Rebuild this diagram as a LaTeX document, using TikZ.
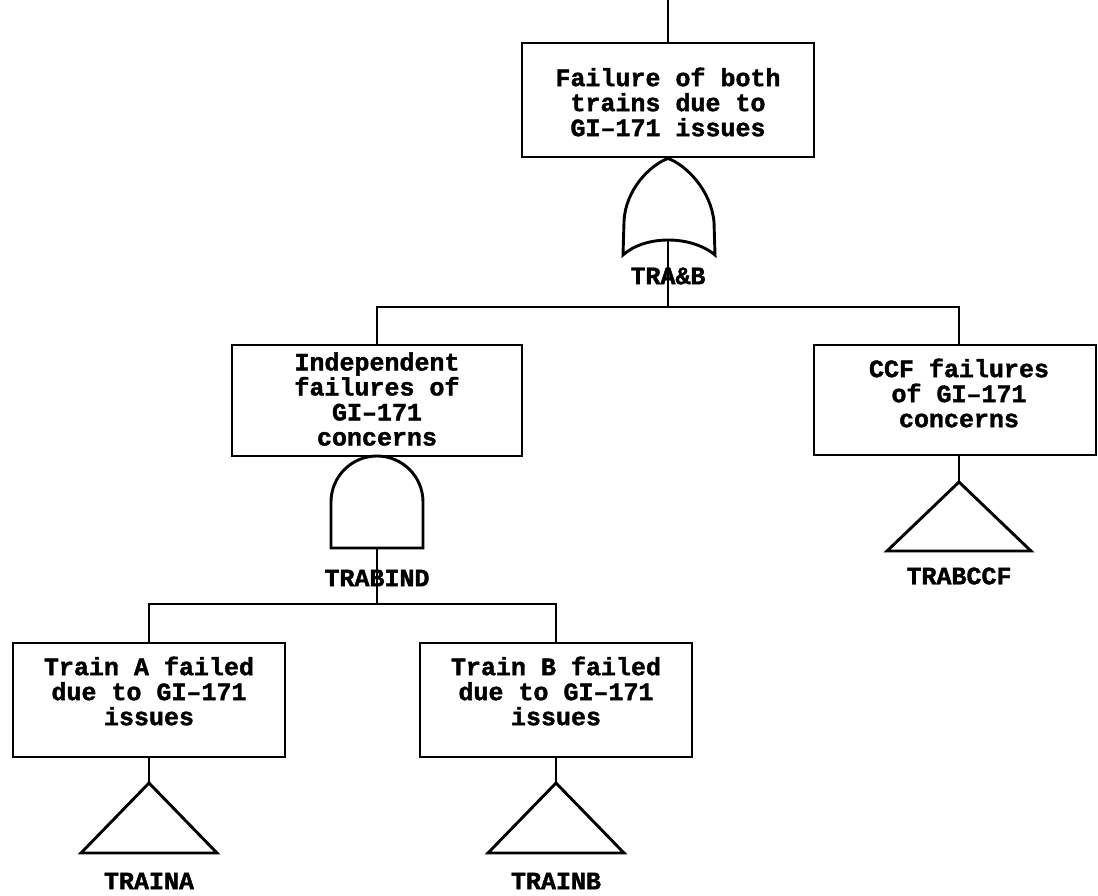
\documentclass[tikz,border=0pt]{standalone}
\usepackage{fontspec}
\newfontfamily\ftfont{Liberation Mono}[BoldFeatures={FakeBold=1.6}]
\begin{document}
\begin{tikzpicture}[x=1pt,y=-1pt,
  ln/.style={line width=2.9pt, line join=miter},
  box/.style={draw, ln, inner sep=0pt, rectangle},
  txt/.style={font=\ftfont\bfseries\fontsize{25}{25}\selectfont, align=center, inner sep=0pt},
  lbl/.style={font=\ftfont\bfseries\fontsize{25}{25}\selectfont, inner sep=0pt}]
\useasboundingbox (0,0) rectangle (1098,895);

% event boxes
\node[box, minimum width=292pt, minimum height=114pt] (top) at (668,100) {};
\node[box, minimum width=290pt, minimum height=111pt] (ind) at (377,400.5) {};
\node[box, minimum width=282pt, minimum height=110pt] (ccf) at (955,400) {};
\node[box, minimum width=272pt, minimum height=114pt] (tra) at (149,700) {};
\node[box, minimum width=272pt, minimum height=114pt] (trb) at (556,700) {};

% box texts
\node[txt] at (668,102) {Failure of both\\trains due to\\GI\textendash171 issues};
\node[txt] at (377,399) {Independent\\failures of\\GI\textendash171\\concerns};
\node[txt] at (959,393) {CCF failures\\of GI\textendash171\\concerns};
\node[txt] at (149,691) {Train A failed\\due to GI\textendash171\\issues};
\node[txt] at (556,691) {Train B failed\\due to GI\textendash171\\issues};

% top input line
\coordinate (topin) at (668,0);
\draw[ln] (topin) -- (top.north);

% OR gate TRA&B
\coordinate (orout) at (668,240);
\coordinate (orbus) at (668,307);
\draw[ln] (top.south) .. controls (650,165) and (625,190) .. (624,222)
  -- (623,255) .. controls (645,235) and (691,235) .. (715,255)
  -- (714,222) .. controls (711,190) and (686,165) .. (top.south);
\draw[ln] (orout) -- (orbus);
\node[lbl] (lor) at (668,276) {TRA\&B};
\coordinate (ccfin) at (959,345);
\draw[ln] (ind.north) |- (orbus) -| (ccfin);

% AND gate TRABIND
\coordinate (andout) at (377,548);
\coordinate (andbus) at (377,604);
\draw[ln] (331,548) -- (331,502) arc[start angle=180, end angle=360, radius=46] -- (423,548) -- cycle;
\draw[ln] (andout) -- (andbus);
\node[lbl] (land) at (377,578) {TRABIND};
\draw[ln] (tra.north) |- (andbus) -| (trb.north);

% transfer triangles
\coordinate (ta) at (149,783);
\coordinate (tb) at (556,783);
\coordinate (tc) at (959,482);
\draw[ln] (tra.south) -- (ta);
\draw[ln] (trb.south) -- (tb);
\draw[ln] (959,455) -- (tc);
\draw[ln] (ta) -- ++(68,70) -- ++(-136,0) -- cycle;
\draw[ln] (tb) -- ++(68,70) -- ++(-136,0) -- cycle;
\draw[ln] (tc) -- ++(72,69) -- ++(-144,0) -- cycle;
\node[lbl] (lta) at (149,881) {TRAINA};
\node[lbl] (ltb) at (556,881) {TRAINB};
\node[lbl] (ltc) at (959,576) {TRABCCF};
\end{tikzpicture}
\end{document}
